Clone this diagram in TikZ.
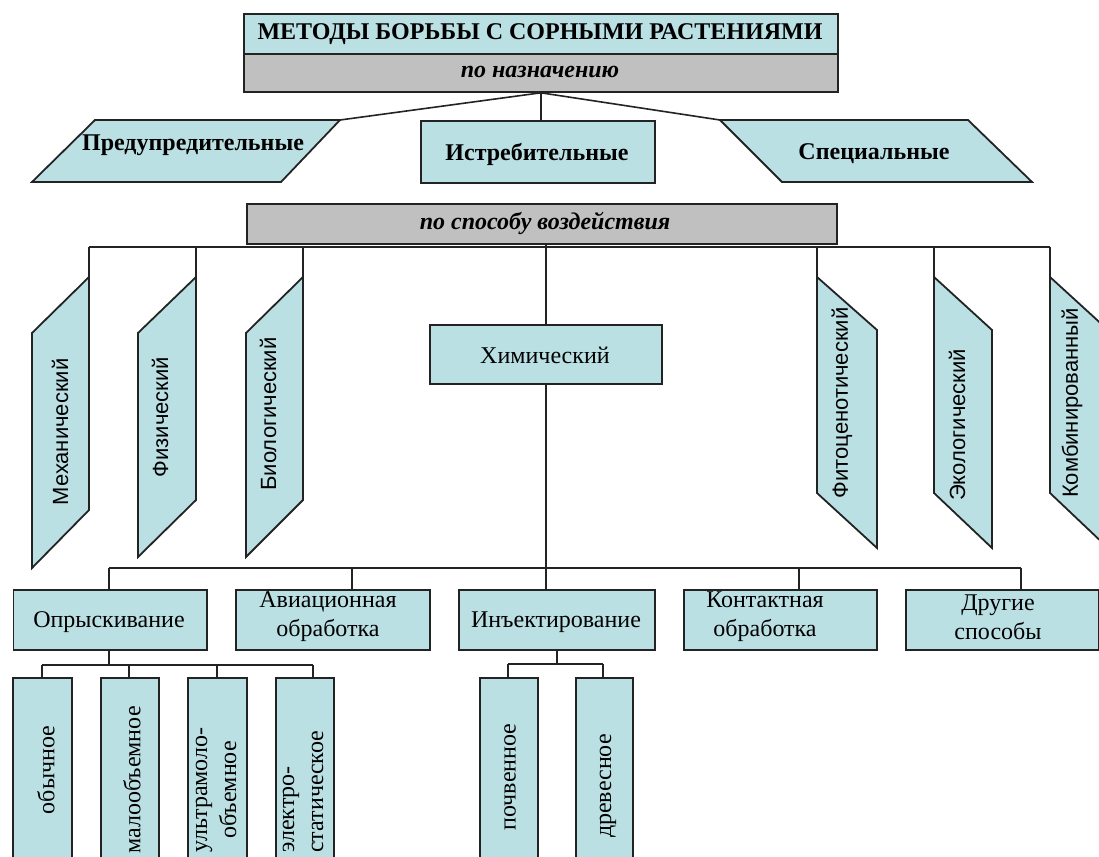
\documentclass[tikz,border=0pt]{standalone}
\usepackage{fontspec}
\setmainfont{Liberation Serif}
\newfontfamily\sansf{Liberation Sans}
\definecolor{lblue}{RGB}{187,224,228}
\definecolor{lgrey}{RGB}{192,192,192}
\definecolor{edgec}{RGB}{35,35,35}
\begin{document}
\begin{tikzpicture}[x=1pt,y=-1pt,
  shapestyle/.style={draw=edgec,fill=lblue,line width=1.8pt,line join=miter},
  rbox/.style={shapestyle,rectangle,inner sep=0pt,anchor=north west},
  gbox/.style={draw=edgec,fill=lgrey,line width=1.8pt,rectangle,inner sep=0pt,anchor=north west},
  wire/.style={draw=edgec,line width=1.6pt},
  tbold/.style={font=\fontsize{24}{29}\selectfont\bfseries,inner sep=0pt},
  tital/.style={font=\fontsize{24}{29}\selectfont\bfseries\itshape,inner sep=0pt},
  treg/.style={font=\fontsize{24}{29}\selectfont,inner sep=0pt,align=center},
  tsans/.style={font=\fontsize{22}{26}\selectfont\sansf,inner sep=0pt,rotate=90},
  tvert/.style={font=\fontsize{24}{29}\selectfont,inner sep=0pt,rotate=90,align=center},
]
\useasboundingbox (0,0) rectangle (1099,856);
\clip (0,0) rectangle (1099,856);

% ---- title ----
\node[rbox,minimum width=594pt,minimum height=40pt] (title) at (243,13) {};
\node[tbold] (titletxt) at (540,34) {МЕТОДЫ БОРЬБЫ С СОРНЫМИ РАСТЕНИЯМИ};
\node[gbox,minimum width=594pt,minimum height=38pt] (purpose) at (243,53) {};
\node[tital] (purposetxt) at (540,72) {по назначению};

% ---- purpose row ----
\coordinate (predTL) at (95,120);
\coordinate (predTR) at (340,120);
\coordinate (predBR) at (281,182);
\coordinate (predBL) at (32,182);
\draw[shapestyle] (predTL) -- (predTR) -- (predBR) -- (predBL) -- cycle;
\node[tbold] (pred) at (193,145) {Предупредительные};

\node[rbox,minimum width=234pt,minimum height=62pt] (istr) at (420,120) {};
\node[tbold] (istrtxt) at (537,154) {Истребительные};

\coordinate (specTL) at (720,120);
\coordinate (specTR) at (968,120);
\coordinate (specBR) at (1032,182);
\coordinate (specBL) at (782,182);
\draw[shapestyle] (specTL) -- (specTR) -- (specBR) -- (specBL) -- cycle;
\node[tbold] (spec) at (874,154) {Специальные};

\draw[wire] (purpose.south) -- (purpose.south |- istr.north);
\draw[wire] (purpose.south) -- (predTR);
\draw[wire] (purpose.south) -- (specTL);

% ---- means ----
\node[gbox,minimum width=590pt,minimum height=40pt] (means) at (246,203) {};
\node[tital] (meanstxt) at (545,223) {по способу воздействия};

\coordinate (busL) at (89,247);
\coordinate (busR) at (1050,247);
\draw[wire] (busL) -- (busR);

% left slanted
\coordinate (mechTR) at (89,277);
\draw[shapestyle] (mechTR) -- (89,510) -- (32,568) -- (32,333) -- cycle;
\node[tsans] (mech) at (60,432) {Механический};
\coordinate (physTR) at (196,277);
\draw[shapestyle] (physTR) -- (196,500) -- (138,557) -- (138,333) -- cycle;
\node[tsans] (phys) at (160,417) {Физический};
\coordinate (bioTR) at (303,277);
\draw[shapestyle] (bioTR) -- (303,500) -- (246,557) -- (246,333) -- cycle;
\node[tsans] (bio) at (268,414) {Биологический};

% right slanted
\coordinate (phytTL) at (817,277);
\draw[shapestyle] (phytTL) -- (877,330) -- (877,548) -- (817,493) -- cycle;
\node[tsans] (phyt) at (842,403) {Фитоценотический};
\coordinate (ecoTL) at (934,277);
\draw[shapestyle] (ecoTL) -- (992,330) -- (992,548) -- (934,493) -- cycle;
\node[tsans] (eco) at (957,425) {Экологический};
\coordinate (combTL) at (1050,277);
\draw[shapestyle] (combTL) -- (1108,330) -- (1108,548) -- (1050,493) -- cycle;
\node[tsans] (comb) at (1072,403) {Комбинированный};

\foreach \c in {mechTR,physTR,bioTR,phytTL,ecoTL,combTL}
  \draw[wire] (\c |- busL) -- (\c);

% chemical
\node[rbox,minimum width=232pt,minimum height=59pt] (chem) at (429,324) {};
\node[treg] (chemtxt) at (545,355) {Химический};
\draw[wire] (means.south -| chem.north) -- (chem.north);

% ---- chemical methods ----
\node[rbox,minimum width=193.5pt,minimum height=60pt] (spray) at (12.5,589) {};
\node[treg] (spraytxt) at (109,622) {Опрыскивание};
\node[rbox,minimum width=194pt,minimum height=60pt] (avia) at (235,589) {};
\node[treg] (aviatxt) at (328,617) {Авиационная\\обработка};
\node[rbox,minimum width=196pt,minimum height=60pt] (inj) at (458,589) {};
\node[treg] (injtxt) at (556,622) {Инъектирование};
\node[rbox,minimum width=193pt,minimum height=60pt] (cont) at (683,589) {};
\node[treg] (conttxt) at (765,617) {Контактная\\обработка};
\node[rbox,minimum width=193pt,minimum height=60pt] (other) at (905,589) {};
\node[treg] (othertxt) at (998,617) {Другие\\способы};

\coordinate (b2L) at (109,568);
\coordinate (b2R) at (1021,568);
\draw[wire] (b2L) -- (b2R);
\draw[wire] (chem.south) -- (chem.south |- inj.north);
\coordinate (sprayT) at (109,589);
\coordinate (aviaT) at (352,589);
\coordinate (contT) at (799,589);
\coordinate (otherT) at (1021,589);
\foreach \c in {sprayT,aviaT,contT,otherT}
  \draw[wire] (\c |- b2L) -- (\c);

% ---- spraying kinds ----
\node[rbox,minimum width=59pt,minimum height=203pt] (usual) at (12,677) {};
\node[rbox,minimum width=58pt,minimum height=203pt] (lowvol) at (100,677) {};
\node[rbox,minimum width=59pt,minimum height=203pt] (ultra) at (187,677) {};
\node[rbox,minimum width=58pt,minimum height=203pt] (elec) at (275,677) {};
\node[tvert] (usualtxt) at (46,770) {обычное};
\node[tvert] (lowvoltxt) at (132,780) {малообъемное};
\node[tvert] (ultratxt) at (216,790) {ультрамоло-\\объемное};
\node[tvert,align=left,anchor=west] (electxt) at (303,853) {электро-\\статическое};

\coordinate (sbL) at (42,665);
\coordinate (sbR) at (313,665);
\draw[wire] (spray.south -| sprayT) -- (sprayT |- sbL);
\draw[wire] (sbL) -- (sbR);
\coordinate (usualT) at (42,677);
\coordinate (lowvolT) at (129,677);
\coordinate (ultraT) at (217,677);
\coordinate (elecT) at (313,677);
\foreach \c in {usualT,lowvolT,ultraT,elecT}
  \draw[wire] (\c |- sbL) -- (\c);

% ---- injection kinds ----
\node[rbox,minimum width=58pt,minimum height=203pt] (soil) at (479,677) {};
\node[rbox,minimum width=57pt,minimum height=203pt] (tree) at (575,677) {};
\node[tvert] (soiltxt) at (510,777) {почвенное};
\node[tvert] (treetxt) at (608,786) {древесное};
\coordinate (ibL) at (508,664);
\coordinate (ibR) at (603,664);
\draw[wire] (inj.south) -- (inj.south |- ibL);
\draw[wire] (ibL) -- (ibR);
\draw[wire] (ibL) -- (soil.north -| ibL);
\draw[wire] (ibR) -- (tree.north -| ibR);
\end{tikzpicture}
\end{document}
